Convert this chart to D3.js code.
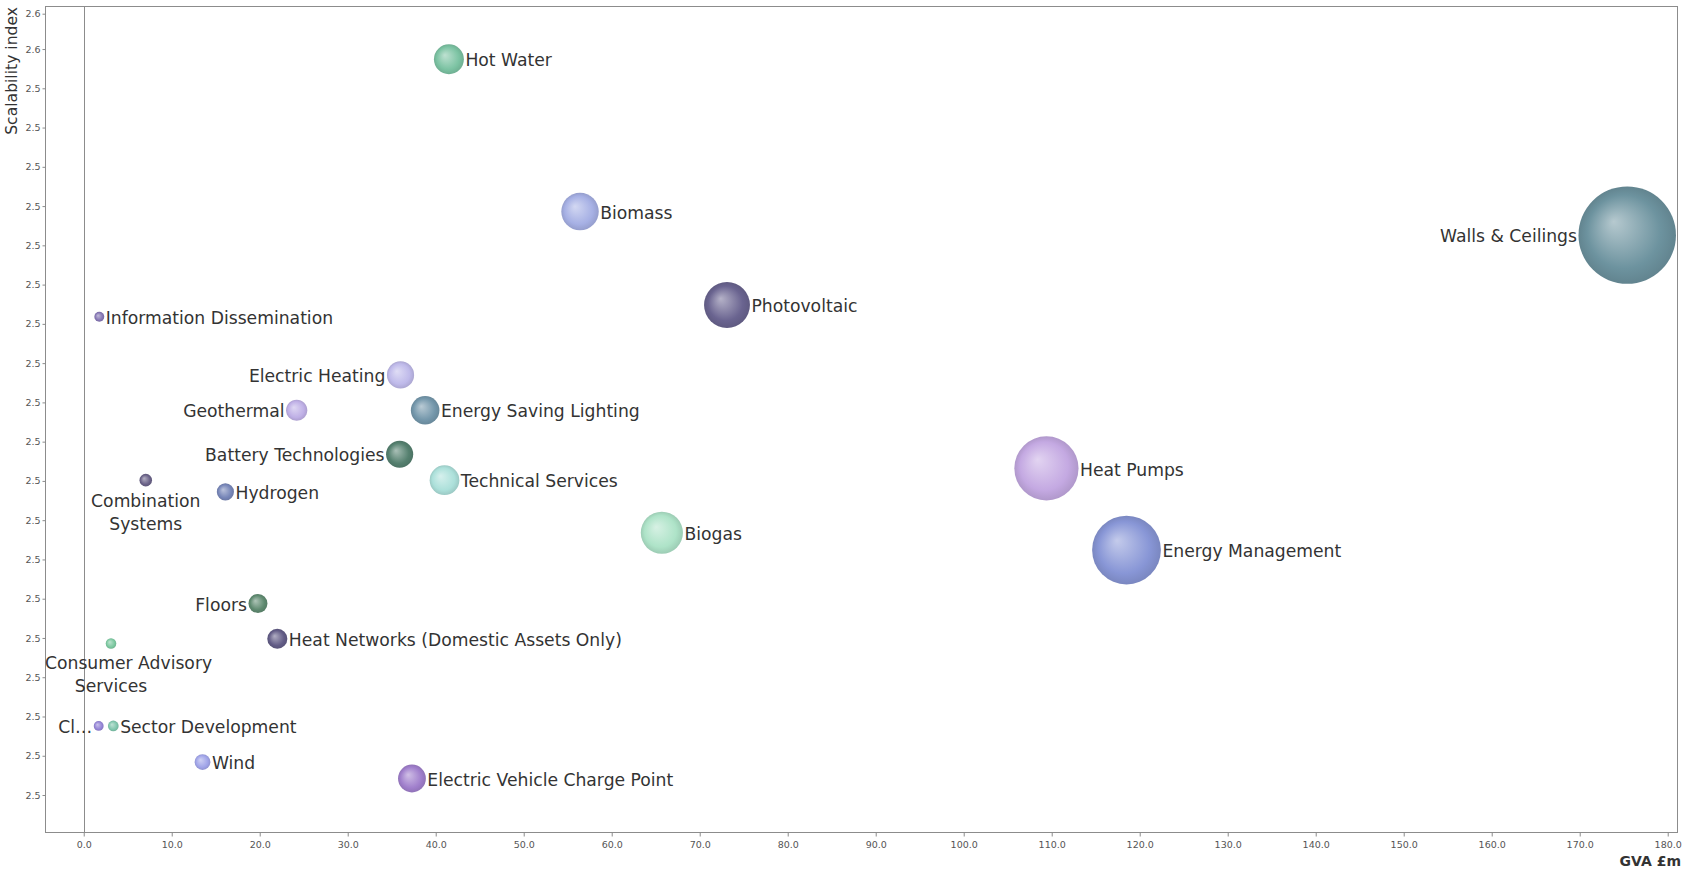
<!DOCTYPE html>
<html>
<head>
<meta charset="utf-8">
<script src="https://cdn.jsdelivr.net/npm/d3@7/dist/d3.min.js"></script>
<style>
  html, body { margin: 0; padding: 0; background: #fff; }
  svg { display: block; font-family: "DejaVu Sans", Verdana, sans-serif; }
</style>
</head>
<body>
<svg id="chart" width="1682" height="870"></svg>
<script>
// Low-carbon technology segments: GVA (£m) against scalability index.
// Bubble size follows GVA.
const technologies = [
  "Walls & Ceilings", "Energy Management", "Heat Pumps", "Photovoltaic", "Biogas",
  "Biomass", "Hot Water", "Technical Services", "Energy Saving Lighting",
  "Electric Vehicle Charge Point", "Electric Heating", "Battery Technologies",
  "Geothermal", "Heat Networks (Domestic Assets Only)", "Floors", "Hydrogen", "Wind",
  "Combination Systems", "Sector Development", "Consumer Advisory Services",
  "Information Dissemination", "Cl…"
];
const gva = [
  175.4, 118.5, 109.4, 73.1, 65.7,
  56.4, 41.5, 41.0, 38.8,
  37.3, 36.0, 35.9,
  24.2, 22.0, 19.8, 16.1, 13.5,
  7.05, 3.36, 3.1,
  1.77, 1.7
];
const scalability = [
  2.5283, 2.4882, 2.4986, 2.5194, 2.4904,
  2.5313, 2.5507, 2.4971, 2.5060,
  2.4591, 2.5105, 2.5004,
  2.5060, 2.4769, 2.4814, 2.4956, 2.4612,
  2.4971, 2.4658, 2.4763,
  2.5179, 2.4658
];
const xTicks = [0, 10, 20, 30, 40, 50, 60, 70, 80, 90, 100, 110, 120, 130, 140, 150, 160, 170, 180];
const yTicks = [2.457, 2.462, 2.467, 2.472, 2.477, 2.482, 2.487, 2.492, 2.497, 2.502,
                2.507, 2.512, 2.517, 2.522, 2.527, 2.532, 2.537, 2.542, 2.547, 2.552, 2.5565];

// Bubble fill colours, in the same order as the technologies.
const colors = [
  "#6d939f", "#8896d6", "#c4a9e2", "#6a6490", "#aee3c8",
  "#a6b0e4", "#7cc3a3", "#ace0da", "#7497ab",
  "#a07fcc", "#bfbaea", "#55806f",
  "#bfb0e6", "#625c86", "#5f8a70", "#7786b8", "#a0a4e8",
  "#6a6288", "#80c6ad", "#7cc8a0",
  "#8576b4", "#9484d6"
];

// Where each label sits relative to its bubble (default: right).
const labelSide = {
  "Walls & Ceilings": "left", "Electric Heating": "left", "Geothermal": "left",
  "Battery Technologies": "left", "Floors": "left", "Cl…": "left",
  "Combination Systems": "below", "Consumer Advisory Services": "below"
};
const labelLines = {
  "Combination Systems": ["Combination", "Systems"],
  "Consumer Advisory Services": ["Consumer Advisory", "Services"]
};

const plot = { left: 45, top: 6, right: 1678, bottom: 832 };

const svg = d3.select("#chart");

const x = d3.scaleLinear().domain([-4.4, 181.17]).range([plot.left, plot.right]);
const y = d3.scaleLinear().domain([2.45229, 2.55748]).range([plot.bottom, plot.top]);
const r = d3.scaleLinear().domain([0, 180]).range([4.5, 49.9]);
const fmt = d3.format(".1f");

const data = technologies.map((name, i) => ({
  name, gva: gva[i], scal: scalability[i], color: colors[i], id: "g" + i
}));

// Radial gradients give each bubble its shaded, spherical look.
const defs = svg.append("defs");
data.forEach(d => {
  const base = d3.color(d.color);
  const g = defs.append("radialGradient")
    .attr("id", d.id)
    .attr("cx", "50%").attr("cy", "50%").attr("r", "50%")
    .attr("fx", "36%").attr("fy", "36%");
  g.append("stop").attr("offset", "0%").attr("stop-color", d3.interpolateRgb(base, "#ffffff")(0.5));
  g.append("stop").attr("offset", "75%").attr("stop-color", base.formatHex());
  g.append("stop").attr("offset", "100%").attr("stop-color", base.darker(0.3).formatHex());
});

// Plot frame
svg.append("rect")
  .attr("x", plot.left + 0.5).attr("y", plot.top + 0.5)
  .attr("width", plot.right - plot.left - 1).attr("height", plot.bottom - plot.top)
  .attr("fill", "none").attr("stroke", "#8c8c8c").attr("stroke-width", 1);

// Zero line
svg.append("line")
  .attr("x1", Math.round(x(0)) + 0.5).attr("x2", Math.round(x(0)) + 0.5)
  .attr("y1", plot.top).attr("y2", plot.bottom)
  .attr("stroke", "#8c8c8c").attr("stroke-width", 1);

// Axes
const xAxis = svg.append("g")
  .attr("transform", `translate(0,${plot.bottom + 0.5})`)
  .call(d3.axisBottom(x).tickValues(xTicks).tickFormat(fmt).tickSize(4).tickPadding(5));
const yAxis = svg.append("g")
  .attr("transform", `translate(${plot.left + 0.5},0)`)
  .call(d3.axisLeft(y).tickValues(yTicks).tickFormat(fmt).tickSize(3).tickPadding(2));
[xAxis, yAxis].forEach(a => {
  a.select(".domain").remove();
  a.selectAll(".tick line").attr("stroke", "#8c8c8c");
  a.selectAll(".tick text")
    .attr("fill", "#555")
    .style("font-family", "'DejaVu Sans', Verdana, sans-serif")
    .style("font-size", "9.5px");
});

// Axis titles
svg.append("text")
  .attr("transform", `translate(17,7) rotate(-90)`)
  .attr("text-anchor", "end")
  .attr("fill", "#333")
  .style("font-size", "15.6px")
  .text("Scalability index");
svg.append("text")
  .attr("x", 1681).attr("y", 866)
  .attr("text-anchor", "end")
  .attr("fill", "#333")
  .style("font-size", "14px").style("font-weight", "bold")
  .text("GVA £m");

// Bubbles
svg.append("g")
  .selectAll("circle")
  .data(data)
  .join("circle")
  .attr("cx", d => x(d.gva))
  .attr("cy", d => y(d.scal))
  .attr("r", d => r(d.gva))
  .attr("fill", d => `url(#${d.id})`);

// Labels
const labels = svg.append("g")
  .attr("fill", "#333")
  .style("font-size", "17.2px");
data.forEach(d => {
  const cx = x(d.gva), cy = y(d.scal), rad = r(d.gva);
  const side = labelSide[d.name] || "right";
  if (side === "below") {
    labelLines[d.name].forEach((line, k) => {
      const t = labels.append("text")
        .attr("text-anchor", "middle")
        .attr("y", cy + rad + 20.5 + k * 22.7)
        .text(line);
      const w = t.node().getComputedTextLength();
      t.attr("x", Math.max(cx, plot.left + w / 2));
    });
  } else if (side === "left") {
    labels.append("text")
      .attr("text-anchor", "end")
      .attr("x", cx - rad - 1.5)
      .attr("y", cy).attr("dy", "0.42em")
      .text(d.name);
  } else {
    labels.append("text")
      .attr("text-anchor", "start")
      .attr("x", cx + rad + 1.5)
      .attr("y", cy).attr("dy", "0.42em")
      .text(d.name);
  }
});
</script>
</body>
</html>
